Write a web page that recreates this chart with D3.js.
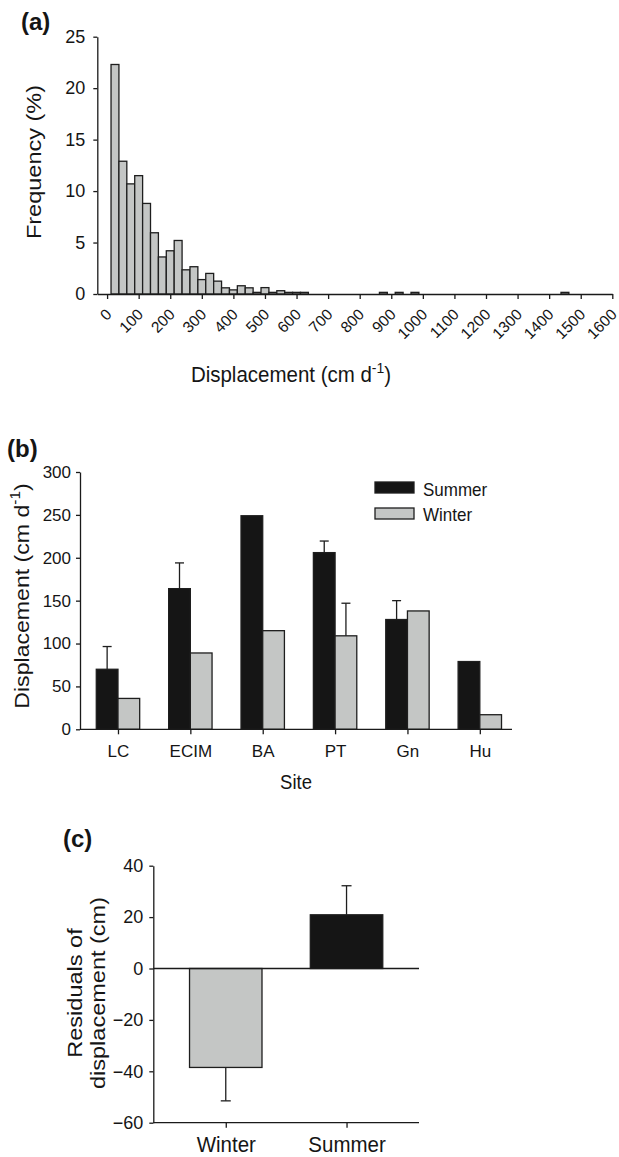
<!DOCTYPE html>
<html>
<head>
<meta charset="utf-8">
<script src="https://cdn.jsdelivr.net/npm/d3@7"></script>
<style>
  html, body { margin: 0; padding: 0; background: #fff; }
  svg text { font-family: "Liberation Sans", Arial, Helvetica, sans-serif; fill: #151515; }
  .axis path, .axis line { stroke: #1a1a1a; stroke-width: 1.3; }
</style>
</head>
<body>
<svg id="fig" width="619" height="1157"></svg>
<script>
// ---- Panel (a): frequency distribution of daily displacement ----
const binCentres = [25, 50, 75, 100, 125, 150, 175, 200, 225, 250, 275, 300, 325, 350, 375,
                    400, 425, 450, 475, 500, 525, 550, 575, 600, 625, 875, 925, 975, 1450];
const binFreq    = [22.3, 12.9, 10.7, 11.5, 8.8, 5.95, 3.6, 4.2, 5.2, 2.35, 2.65, 1.4, 2.0, 1.25, 0.6,
                    0.4, 0.8, 0.6, 0.16, 0.62, 0.16, 0.32, 0.16, 0.16, 0.16, 0.16, 0.16, 0.16, 0.16];
const binWidth = 25;
const histXTicks = d3.range(0, 1601, 100);
const histYTicks = [0, 5, 10, 15, 20, 25];

// ---- Panel (b): mean displacement per site and season ----
const sites      = ["LC", "ECIM", "BA", "PT", "Gn", "Hu"];
const summerMean = [70, 164, 249, 206, 128, 79];
const summerSE   = [26.5, 30, 0, 13.5, 22, 0];
const winterMean = [36, 89, 115, 109, 138, 17];
const winterSE   = [0, 0, 0, 38, 0, 0];
const siteYTicks = [0, 50, 100, 150, 200, 250, 300];

// ---- Panel (c): residual displacement by season ----
const seasons    = ["Winter", "Summer"];
const residMean  = [-38.5, 20.9];
const residSE    = [13, 11.3];
const residTicks = [-60, -40, -20, 0, 20, 40];

const GREY = "#c4c6c5", DARK = "#151515", EDGE = "#1e1e1e";
const svg = d3.select("#fig");

function styleAxis(g) {
  g.attr("class", "axis");
  g.selectAll("text").attr("fill", "#151515").style("font-family", null);
  return g;
}

// text placed at (x, y), drawn slightly tall (k = vertical stretch), optionally rotated
function tallText(parent, x, y, size, k, rot, anchor) {
  return parent.append("text")
    .attr("transform", `translate(${x},${y}) scale(1,${k})` + (rot ? ` rotate(${rot})` : ""))
    .attr("text-anchor", anchor || "middle")
    .attr("font-size", size);
}

// title with a superscript "-1" unit
function unitTitle(sel, size) {
  sel.append("tspan").text("Displacement (cm d");
  sel.append("tspan").attr("font-size", Math.round(size * 0.66)).attr("dy", -size * 0.4).text("-1");
  sel.append("tspan").attr("dy", size * 0.4).text(")");
}

// ================= (a) =================
{
  const x = d3.scaleLinear().domain([-31, 1600]).range([97.3, 612.3]);
  const y = d3.scaleLinear().domain([0, 25]).range([294, 36.7]);
  const g = svg.append("g");

  g.selectAll("rect.bin").data(binCentres).join("rect")
    .attr("class", "bin")
    .attr("x", (d) => x(d - binWidth / 2))
    .attr("width", (d) => x(d + binWidth / 2) - x(d - binWidth / 2))
    .attr("y", (d, i) => y(binFreq[i]))
    .attr("height", (d, i) => y(0) - y(binFreq[i]))
    .attr("fill", GREY).attr("stroke", EDGE).attr("stroke-width", 1.3);

  const ya = g.append("g").attr("transform", `translate(${x.range()[0]},0)`)
    .call(d3.axisLeft(y).tickValues(histYTicks).tickSize(4).tickSizeOuter(0).tickPadding(8));
  styleAxis(ya).selectAll("text").attr("font-size", 18);
  ya.select(".domain").attr("fill", "none");

  const xa = g.append("g").attr("transform", `translate(0,${y(0)})`)
    .call(d3.axisBottom(x).tickValues(histXTicks).tickSize(5).tickSizeOuter(0).tickFormat(d3.format("d")));
  styleAxis(xa);
  xa.selectAll(".tick text")
    .attr("font-size", 15.5)
    .attr("text-anchor", "end")
    .attr("y", 0).attr("dy", 0)
    .attr("transform", "translate(5,21.5) rotate(-45)");

  g.append("text").attr("x", 21).attr("y", 30)
    .attr("font-size", 24).attr("font-weight", "bold").text("(a)");

  tallText(g, 40.5, 162, 21, 1.12, -90).text("Frequency (%)");

  unitTitle(tallText(g, 291, 382, 20.5, 1.1), 20.5);
}

// ================= (b) =================
{
  const x = d3.scalePoint().domain(sites).range([81.8, 516]).padding(0.5);
  const y = d3.scaleLinear().domain([0, 300]).range([729.3, 472]);
  const bw = 21.7;
  const g = svg.append("g");

  const series = [
    { mean: summerMean, se: summerSE, off: -1, fill: DARK },
    { mean: winterMean, se: winterSE, off: 0, fill: GREY }
  ];

  series.forEach((s) => {
    const idx = d3.range(sites.length);
    g.selectAll(null).data(idx).join("rect")
      .attr("x", (i) => x(sites[i]) + s.off * bw)
      .attr("width", bw)
      .attr("y", (i) => y(s.mean[i]))
      .attr("height", (i) => y(0) - y(s.mean[i]))
      .attr("fill", s.fill).attr("stroke", EDGE).attr("stroke-width", 1.3);

    const withErr = idx.filter((i) => s.se[i] > 0);
    const cx = (i) => x(sites[i]) + s.off * bw + bw / 2;
    g.selectAll(null).data(withErr).join("line")
      .attr("x1", cx).attr("x2", cx)
      .attr("y1", (i) => y(s.mean[i])).attr("y2", (i) => y(s.mean[i] + s.se[i]))
      .attr("stroke", EDGE).attr("stroke-width", 1.3);
    g.selectAll(null).data(withErr).join("line")
      .attr("x1", (i) => cx(i) - 4.5).attr("x2", (i) => cx(i) + 4.5)
      .attr("y1", (i) => y(s.mean[i] + s.se[i])).attr("y2", (i) => y(s.mean[i] + s.se[i]))
      .attr("stroke", EDGE).attr("stroke-width", 1.3);
  });

  const ya = g.append("g").attr("transform", "translate(80,0)")
    .call(d3.axisLeft(y).tickValues(siteYTicks).tickSize(4).tickSizeOuter(0).tickPadding(5));
  styleAxis(ya).selectAll("text").attr("font-size", 17);
  ya.select(".domain").attr("fill", "none");

  const xa = g.append("g").attr("transform", `translate(0,${y(0)})`)
    .call(d3.axisBottom(x).tickSize(5).tickSizeOuter(0).tickPadding(0));
  styleAxis(xa);
  xa.select(".domain").remove();
  xa.selectAll(".tick text").attr("font-size", 17).attr("y", 27.5).attr("dy", 0);
  xa.append("line").attr("x1", 80).attr("x2", 512).attr("y1", 0).attr("y2", 0)
    .attr("stroke", "#1a1a1a").attr("stroke-width", 1.3);

  g.append("text").attr("x", 7).attr("y", 457)
    .attr("font-size", 24).attr("font-weight", "bold").text("(b)");

  unitTitle(tallText(g, 28.5, 596, 21, 1.1, -90), 21);

  tallText(g, 296, 789, 18.5, 1.08).text("Site");

  // legend
  const legendItems = [{ label: "Summer", fill: DARK }, { label: "Winter", fill: GREY }];
  legendItems.forEach((d, i) => {
    g.append("rect").attr("x", 375).attr("y", 482 + i * 26)
      .attr("width", 39).attr("height", 11)
      .attr("fill", d.fill).attr("stroke", EDGE).attr("stroke-width", 1.3);
    tallText(g, 423, 495.5 + i * 25.5, 17, 1.1, 0, "start").text(d.label);
  });
}

// ================= (c) =================
{
  const x = d3.scalePoint().domain(seasons).range([153.3, 419]).padding(0.6);
  const y = d3.scaleLinear().domain([-60, 40]).range([1122.7, 865.7]);
  const bw = x.step() * 0.6;
  const fills = [GREY, DARK];
  const g = svg.append("g");

  g.selectAll(null).data(seasons).join("rect")
    .attr("x", (d) => x(d) - bw / 2)
    .attr("width", bw)
    .attr("y", (d, i) => y(Math.max(0, residMean[i])))
    .attr("height", (d, i) => Math.abs(y(residMean[i]) - y(0)))
    .attr("fill", (d, i) => fills[i]).attr("stroke", EDGE).attr("stroke-width", 1.3);

  const tip = (i) => residMean[i] + Math.sign(residMean[i]) * residSE[i];
  g.selectAll(null).data(seasons).join("line")
    .attr("x1", (d) => x(d)).attr("x2", (d) => x(d))
    .attr("y1", (d, i) => y(residMean[i])).attr("y2", (d, i) => y(tip(i)))
    .attr("stroke", EDGE).attr("stroke-width", 1.3);
  g.selectAll(null).data(seasons).join("line")
    .attr("x1", (d) => x(d) - 5).attr("x2", (d) => x(d) + 5)
    .attr("y1", (d, i) => y(tip(i))).attr("y2", (d, i) => y(tip(i)))
    .attr("stroke", EDGE).attr("stroke-width", 1.3);

  // zero reference line
  g.append("line").attr("x1", 153.3).attr("x2", 419).attr("y1", y(0)).attr("y2", y(0))
    .attr("stroke", "#1a1a1a").attr("stroke-width", 1.3);

  const ya = g.append("g").attr("transform", "translate(153.3,0)")
    .call(d3.axisLeft(y).tickValues(residTicks).tickSize(4).tickSizeOuter(0).tickPadding(6));
  styleAxis(ya).selectAll("text").attr("font-size", 18);
  ya.select(".domain").attr("fill", "none");

  const xa = g.append("g").attr("transform", `translate(0,${y(-60)})`)
    .call(d3.axisBottom(x).tickSize(5).tickSizeOuter(0).tickPadding(0));
  styleAxis(xa);
  xa.select(".domain").remove();
  xa.selectAll(".tick text").attr("font-size", 20.5).attr("dy", 0)
    .attr("y", 0).attr("transform", "translate(0,29.5) scale(1,1.07)");
  xa.append("line").attr("x1", 153.3).attr("x2", 419).attr("y1", 0).attr("y2", 0)
    .attr("stroke", "#1a1a1a").attr("stroke-width", 1.3);

  g.append("text").attr("x", 63).attr("y", 847)
    .attr("font-size", 24).attr("font-weight", "bold").text("(c)");

  tallText(g, 81.5, 993, 21, 1.12, -90).text("Residuals of");
  tallText(g, 104.5, 993, 21, 1.12, -90).text("displacement (cm)");
}
</script>
</body>
</html>
